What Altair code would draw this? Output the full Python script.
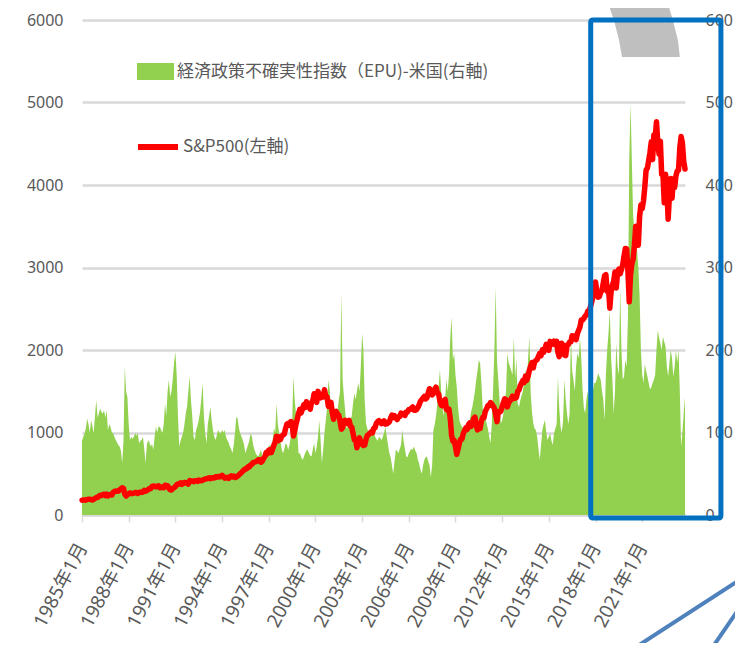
import altair as alt
import pandas as pd

# ---------------- data (monthly, 1985-01 .. 2023-10) ----------------
START_YEAR = 1985

sp500 = [
    179.6, 181.2, 180.7, 179.8, 189.6, 191.9, 190.9, 188.6, 182.1, 189.8, 202.2, 211.3,  # 1985
    211.8, 226.9, 238.9, 235.5, 247.4, 250.8, 236.1, 252.9, 231.3, 244.0, 249.2, 242.2,  # 1986
    274.1, 284.2, 291.7, 288.4, 290.1, 304.0, 318.7, 329.8, 321.8, 251.8, 230.3, 247.1,  # 1987
    257.1, 267.8, 258.9, 261.3, 262.2, 273.5, 272.0, 261.5, 271.9, 279.0, 273.7, 277.7,  # 1988
    297.5, 288.9, 294.9, 309.6, 320.5, 318.0, 346.1, 351.5, 349.2, 340.4, 346.0, 353.4,  # 1989
    329.1, 331.9, 339.9, 330.8, 361.2, 358.0, 356.2, 322.6, 306.1, 304.0, 322.2, 330.2,  # 1990
    343.9, 367.1, 375.2, 375.3, 389.8, 371.2, 387.8, 395.4, 387.9, 392.5, 375.2, 417.1,  # 1991
    408.8, 412.7, 403.7, 414.9, 415.4, 408.1, 424.2, 414.0, 417.8, 418.7, 431.4, 435.7,  # 1992
    438.8, 443.4, 451.7, 440.2, 450.2, 450.5, 448.1, 463.6, 458.9, 467.8, 461.8, 466.5,  # 1993
    481.6, 467.1, 445.8, 450.9, 456.5, 444.3, 458.3, 475.5, 462.7, 472.4, 453.7, 459.3,  # 1994
    470.4, 487.4, 500.7, 514.7, 533.4, 544.8, 562.1, 561.9, 584.4, 581.5, 605.4, 615.9,  # 1995
    636.0, 640.4, 645.5, 654.2, 669.1, 670.6, 639.9, 652.0, 687.3, 705.3, 757.0, 740.7,  # 1996
    786.2, 791.0, 757.1, 801.3, 848.3, 885.1, 954.3, 899.5, 947.3, 914.6, 955.4, 970.4,  # 1997
    980.3, 1049.3, 1101.8, 1111.8, 1090.8, 1133.8, 1120.7, 957.3, 1017.0, 1098.7, 1163.6, 1229.2,  # 1998
    1279.6, 1238.3, 1286.4, 1335.2, 1301.8, 1372.7, 1328.7, 1320.4, 1282.7, 1362.9, 1388.9, 1469.3,  # 1999
    1394.5, 1366.4, 1498.6, 1452.4, 1420.6, 1454.6, 1430.8, 1517.7, 1436.5, 1429.4, 1315.2, 1320.3,  # 2000
    1366.0, 1239.9, 1160.3, 1249.5, 1255.8, 1224.4, 1211.2, 1133.6, 1040.9, 1059.8, 1139.5, 1148.1,  # 2001
    1130.2, 1106.7, 1147.4, 1076.9, 1067.1, 989.8, 911.6, 916.1, 815.3, 885.8, 936.3, 879.8,  # 2002
    855.7, 841.2, 848.2, 916.9, 963.6, 974.5, 990.3, 1008.0, 996.0, 1050.7, 1058.2, 1111.9,  # 2003
    1131.1, 1144.9, 1126.2, 1107.3, 1120.7, 1140.8, 1101.7, 1104.2, 1114.6, 1130.2, 1173.8, 1211.9,  # 2004
    1181.3, 1203.6, 1180.6, 1156.9, 1191.5, 1191.3, 1234.2, 1220.3, 1228.8, 1207.0, 1249.5, 1248.3,  # 2005
    1280.1, 1280.7, 1294.8, 1310.6, 1270.1, 1270.2, 1276.7, 1303.8, 1335.9, 1377.9, 1400.6, 1418.3,  # 2006
    1438.2, 1406.8, 1420.9, 1482.4, 1530.6, 1503.4, 1455.3, 1474.0, 1526.8, 1549.4, 1481.1, 1468.4,  # 2007
    1378.6, 1330.6, 1322.7, 1385.6, 1400.4, 1280.0, 1267.4, 1282.8, 1166.4, 968.8, 896.2, 903.3,  # 2008
    825.9, 735.1, 797.9, 872.8, 919.1, 919.3, 987.5, 1020.6, 1057.1, 1036.2, 1095.6, 1115.1,  # 2009
    1073.9, 1104.5, 1169.4, 1186.7, 1089.4, 1030.7, 1101.6, 1049.3, 1141.2, 1183.3, 1180.6, 1257.6,  # 2010
    1286.1, 1327.2, 1325.8, 1363.6, 1345.2, 1320.6, 1292.3, 1218.9, 1131.4, 1253.3, 1247.0, 1257.6,  # 2011
    1312.4, 1365.7, 1408.5, 1397.9, 1310.3, 1362.2, 1379.3, 1406.6, 1440.7, 1412.2, 1416.2, 1426.2,  # 2012
    1498.1, 1514.7, 1569.2, 1597.6, 1630.7, 1606.3, 1685.7, 1633.0, 1681.6, 1756.5, 1805.8, 1848.4,  # 2013
    1782.6, 1859.5, 1872.3, 1884.0, 1923.6, 1960.2, 1930.7, 2003.4, 1972.3, 2018.1, 2067.6, 2058.9,  # 2014
    1995.0, 2104.5, 2067.9, 2085.5, 2107.4, 2063.1, 2103.8, 1972.2, 1920.0, 2079.4, 2080.4, 2043.9,  # 2015
    1940.2, 1932.2, 2059.7, 2065.3, 2097.0, 2098.9, 2173.6, 2171.0, 2168.3, 2126.2, 2199.0, 2238.8,  # 2016
    2278.9, 2363.6, 2362.7, 2384.2, 2411.8, 2423.4, 2470.3, 2471.7, 2519.4, 2575.3, 2647.6, 2673.6,  # 2017
    2823.8, 2713.8, 2640.9, 2648.1, 2705.3, 2718.4, 2816.3, 2901.5, 2914.0, 2711.7, 2760.2, 2506.9,  # 2018
    2704.1, 2784.5, 2834.4, 2945.8, 2752.1, 2941.8, 2980.4, 2926.5, 2976.7, 3037.6, 3141.0, 3230.8,  # 2019
    3225.5, 2954.2, 2584.6, 2912.4, 3044.3, 3100.3, 3271.1, 3500.3, 3363.0, 3270.0, 3621.6, 3756.1,  # 2020
    3714.2, 3811.2, 3972.9, 4181.2, 4204.1, 4297.5, 4395.3, 4522.7, 4307.5, 4605.4, 4567.0, 4766.2,  # 2021
    4515.6, 4373.9, 4530.4, 4131.9, 4132.2, 3785.4, 4130.3, 3955.0, 3585.6, 3872.0, 4080.1, 3839.5,  # 2022
    4076.6, 3970.2, 4109.3, 4169.5, 4179.8, 4450.4, 4589.0, 4507.7, 4288.1, 4193.8,  # 2023
]

epu = [
    90, 95, 99, 105, 117, 110, 100, 115, 108, 99, 120, 139,      # 1985
    118, 123, 129, 125, 123, 127, 118, 127, 103, 110, 107, 100,  # 1986
    99, 95, 91, 88, 85, 83, 78, 63, 90, 180, 150, 143,           # 1987
    110, 91, 95, 92, 95, 99, 96, 99, 87, 90, 91, 95,             # 1988
    80, 63, 85, 91, 88, 83, 86, 79, 95, 107, 100, 107,           # 1989
    107, 103, 99, 110, 135, 120, 150, 164, 143, 150, 165, 185,   # 1990
    198, 170, 120, 83, 90, 95, 100, 110, 123, 131, 150, 168,     # 1991
    139, 120, 95, 91, 103, 108, 115, 125, 140, 160, 120, 99,     # 1992
    87, 110, 120, 131, 115, 103, 95, 91, 97, 103, 100, 99,       # 1993
    103, 100, 103, 95, 91, 88, 83, 80, 75, 85, 100, 119,         # 1994
    117, 105, 99, 95, 91, 85, 75, 80, 85, 90, 99, 95,            # 1995
    85, 79, 75, 72, 71, 75, 79, 72, 70, 67, 75, 80,              # 1996
    83, 85, 83, 90, 105, 100, 135, 110, 99, 90, 80, 75,          # 1997
    80, 87, 85, 79, 85, 95, 110, 168, 140, 123, 100, 75,         # 1998
    75, 70, 67, 70, 75, 78, 79, 75, 72, 71, 80, 87,              # 1999
    75, 83, 95, 115, 90, 63, 80, 100, 115, 130, 164, 152,        # 2000
    125, 115, 120, 123, 115, 125, 139, 150, 269, 164, 143, 125,  # 2001
    105, 107, 112, 115, 120, 135, 147, 140, 150, 160, 150, 180,  # 2002
    220, 200, 139, 111, 105, 99, 100, 107, 105, 100, 95, 92,     # 2003
    90, 95, 93, 91, 95, 100, 107, 95, 85, 75, 70, 60,            # 2004
    50, 65, 79, 78, 75, 80, 85, 103, 90, 80, 71, 70,             # 2005
    75, 78, 80, 79, 83, 78, 75, 67, 62, 55, 50, 60,              # 2006
    67, 70, 71, 65, 60, 46, 60, 103, 110, 120, 135, 155,         # 2007
    176, 150, 131, 120, 140, 164, 150, 170, 215, 240, 188, 196,  # 2008
    170, 155, 130, 115, 110, 107, 105, 103, 100, 105, 110, 115,  # 2009
    125, 131, 140, 150, 164, 175, 188, 184, 160, 130, 115, 120,  # 2010
    111, 105, 95, 87, 110, 152, 200, 277, 188, 164, 140, 111,    # 2011
    115, 123, 135, 150, 196, 185, 180, 175, 170, 216, 165, 190,  # 2012
    135, 131, 139, 145, 150, 164, 176, 160, 190, 216, 147, 125,  # 2013
    111, 105, 103, 95, 80, 67, 85, 103, 110, 115, 100, 91,       # 2014
    95, 99, 90, 85, 99, 105, 110, 168, 130, 107, 100, 115,       # 2015
    164, 140, 123, 110, 123, 220, 175, 164, 150, 180, 196, 190,  # 2016
    215, 190, 152, 130, 123, 140, 150, 140, 135, 130, 150, 160,  # 2017
    160, 165, 172, 168, 164, 150, 140, 115, 170, 200, 220, 248,  # 2018
    190, 164, 123, 150, 208, 180, 170, 277, 200, 164, 168, 188,  # 2019
    180, 240, 430, 499, 430, 362, 345, 333, 321, 300, 265, 200,  # 2020
    170, 160, 183, 175, 168, 160, 152, 155, 160, 164, 170, 200,  # 2021
    224, 215, 208, 200, 216, 210, 204, 180, 168, 185, 200, 190,  # 2022
    168, 180, 200, 185, 200, 150, 83, 100, 123, 143,             # 2023
]

EPU_LABEL = "経済政策不確実性指数（EPU)-米国(右軸)"
SP_LABEL = "S&P500(左軸)"
x_tick_months = list(range(0, 433, 36))          # every 3 years, January
left_ticks = [0, 1000, 2000, 3000, 4000, 5000, 6000]
right_ticks = [0, 100, 200, 300, 400, 500, 600]

# annotations drawn over the chart (month index / left-axis units)
box_month = [392.3, 492.7]
box_value = [-36, 6000]
arc_value = [6242, 6000, 5758, 5552]
arc_left = [404.8, 410.2, 414.1, 416.4]
arc_right = [451.0, 455.6, 459.5, 461.0]
pointer_id = ["a", "a", "b", "b"]
pointer_month = [411.8, 522.8, 479.5, 522.8]
pointer_value = [-1758, -625, -1758, -764]

# ---------------- chart ----------------
n = len(sp500)
df = pd.DataFrame({"k": list(range(n)), "sp500": sp500, "epu": epu[:n]})
df["s_sp"] = SP_LABEL
df["s_epu"] = EPU_LABEL

GRAY = "#595959"
NUM_FONT = "Noto Sans, Noto Sans CJK JP, sans-serif"
JP_FONT = "Noto Sans CJK JP, sans-serif"

xscale = alt.Scale(domain=[0, n - 1], nice=False, zero=False)
xaxis = alt.Axis(
    values=x_tick_months,
    labelExpr=f"({START_YEAR} + datum.value / 12) + '年1月'",
    labelAngle=-62, labelFont=NUM_FONT, labelFontSize=19, labelColor=GRAY,
    labelPadding=22, tickSize=7, tickColor="#d9d9d9", tickWidth=1.5,
    domainColor="#d9d9d9", domainWidth=2, grid=False, title=None,
    labelOverlap=False,
)
lscale = alt.Scale(domain=[0, 6000], nice=False, zero=False)
rscale = alt.Scale(domain=[0, 600], nice=False, zero=False)

area = alt.Chart(df).mark_area(opacity=1, interpolate="linear").encode(
    x=alt.X("k:Q", scale=xscale, axis=xaxis),
    y=alt.Y("epu:Q", scale=rscale, axis=alt.Axis(
        orient="right", values=right_ticks, format="d", grid=False, domain=False,
        ticks=False, labelPadding=20, labelFont=NUM_FONT, labelFontSize=16,
        labelColor=GRAY, title=None)),
    fill=alt.Fill("s_epu:N", scale=alt.Scale(domain=[EPU_LABEL], range=["#92D050"]),
                  legend=alt.Legend(orient="none", legendX=55, legendY=33, title=None,
                                    symbolType="M-1,-0.46H1V0.46H-1Z", symbolSize=1369,
                                    symbolStrokeWidth=0, symbolOpacity=1,
                                    labelFont=JP_FONT, labelFontSize=17, labelColor=GRAY,
                                    labelOffset=3, labelLimit=0, padding=0)),
)

line = alt.Chart(df).mark_line(strokeWidth=5.5, strokeJoin="round", strokeCap="round").encode(
    x=alt.X("k:Q", scale=xscale, axis=xaxis),
    y=alt.Y("sp500:Q", scale=lscale, axis=alt.Axis(
        orient="left", values=left_ticks, format="d", grid=True, gridColor="#d9d9d9",
        gridWidth=2.5, domain=False, ticks=False, labelPadding=19, labelFont=NUM_FONT,
        labelFontSize=16, labelColor=GRAY, title=None)),
    stroke=alt.Stroke("s_sp:N", scale=alt.Scale(domain=[SP_LABEL], range=["#FF0000"]),
                      legend=alt.Legend(orient="none", legendX=53, legendY=104, title=None,
                                        symbolType="stroke", symbolSize=1600,
                                        symbolStrokeWidth=6, labelFont=JP_FONT,
                                        labelFontSize=17, labelColor=GRAY, labelOffset=2,
                                        labelLimit=0, padding=0)),
)

box_df = pd.DataFrame({"k1": [box_month[0]], "k2": [box_month[1]],
                       "v1": [box_value[0]], "v2": [box_value[1]]})
box = alt.Chart(box_df).mark_rect(fillOpacity=0, stroke="#0070C0", strokeWidth=5,
                                  cornerRadius=2, clip=False).encode(
    x=alt.X("k1:Q", scale=xscale, axis=xaxis), x2="k2:Q",
    y=alt.Y("v1:Q", scale=lscale, axis=None), y2="v2:Q",
)

arc_df = pd.DataFrame({"v": arc_value, "kl": arc_left, "kr": arc_right})
arc = alt.Chart(arc_df).mark_area(orient="horizontal", color="#BFBFBF", opacity=1,
                                  clip=False).encode(
    y=alt.Y("v:Q", scale=lscale, axis=None),
    x=alt.X("kl:Q", scale=xscale, axis=xaxis), x2="kr:Q",
)

ptr_df = pd.DataFrame({"id": pointer_id, "k": pointer_month, "v": pointer_value})
pointer = alt.Chart(ptr_df).mark_line(color="#4F81BD", strokeWidth=4, clip=False).encode(
    x=alt.X("k:Q", scale=xscale, axis=xaxis),
    y=alt.Y("v:Q", scale=lscale, axis=None),
    detail="id:N",
)

chart = alt.layer(area, line, arc, box, pointer).resolve_scale(
    y="independent", fill="independent", stroke="independent"
).properties(
    width=603, height=495,
    autosize=alt.AutoSizeParams(type="none"),
    padding={"left": 74, "top": 12, "right": 50, "bottom": 128},
    background="white",
).configure_view(stroke=None)

chart.save("out.html", embed_options={"renderer": "svg", "actions": False})
